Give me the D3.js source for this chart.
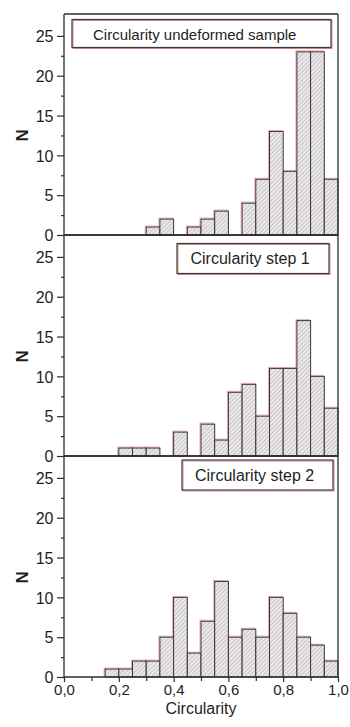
<!DOCTYPE html>
<html>
<head>
<meta charset="utf-8">
<script src="https://cdn.jsdelivr.net/npm/d3@7"></script>
<style>
  html, body { margin: 0; padding: 0; background: #fff; }
  text { font-family: "Liberation Sans", Arial, sans-serif; fill: #1e1e1e; }
</style>
</head>
<body>
<svg id="chart" width="350" height="727"></svg>
<script>
// ---- data ----
const binEdges = d3.range(20).map(i => +(i * 0.05).toFixed(2)); // lower edges, width 0.05
const binWidth = 0.05;
const titles = ["Circularity undeformed sample", "Circularity step 1", "Circularity step 2"];
const countsUndeformed = [0,0,0,0,0,0,1,2,0,1,2,3,0,4,7,13,8,23,23,7];
const countsStep1      = [0,0,0,0,1,1,1,0,3,0,4,2,8,9,5,11,11,17,10,6];
const countsStep2      = [0,0,0,1,1,2,2,5,10,3,7,12,5,6,5,10,8,5,4,2];
const yTicks = [0, 5, 10, 15, 20, 25];
const yMinorTicks = [2.5, 7.5, 12.5, 17.5, 22.5];
const xTicks = [0, 0.2, 0.4, 0.6, 0.8, 1.0];
const xTickLabels = ["0,0", "0,2", "0,4", "0,6", "0,8", "1,0"];
const xMinorTicks = [0.1, 0.3, 0.5, 0.7, 0.9];
const yLabel = "N";
const xLabel = "Circularity";

const panels = [
  { title: titles[0], counts: countsUndeformed },
  { title: titles[1], counts: countsStep1 },
  { title: titles[2], counts: countsStep2 }
];

// ---- layout ----
const svg = d3.select("#chart");
const left = 64, right = 338;
const panelTop0 = 14, panelH = 221;
const legendBoxes = [
  { x: 72, y: 19.5, w: 259, h: 28, tx: 93, ty: 39.5, fs: 15 },
  { x: 177, y: 243.5, w: 152, h: 30, tx: 190.5, ty: 263.5, fs: 16 },
  { x: 182, y: 460, w: 151, h: 30, tx: 195, ty: 481, fs: 16 }
];

const x = d3.scaleLinear().domain([0, 1]).range([left, right]);

const defs = svg.append("defs");
const pat = defs.append("pattern")
  .attr("id", "hatch")
  .attr("patternUnits", "userSpaceOnUse")
  .attr("width", 3).attr("height", 3)
  .attr("patternTransform", "rotate(-45)");
pat.append("rect").attr("width", 3).attr("height", 3).attr("fill", "#efe8e8");
pat.append("line").attr("x1", 0).attr("y1", 0).attr("x2", 3).attr("y2", 0)
  .attr("stroke", "#95a3b6").attr("stroke-width", 1);

const frameColor = "#2e2e2e";

panels.forEach((p, i) => {
  const top = panelTop0 + i * panelH;
  const bottom = top + panelH;
  const y = d3.scaleLinear().domain([0, 27.75]).range([bottom, top]);
  const g = svg.append("g");

  const data = binEdges.map((e, k) => ({ x0: e, x1: e + binWidth, n: p.counts[k] })).filter(d => d.n > 0);

  // red misregistration fringe
  g.selectAll("rect.fringe").data(data).join("rect")
    .attr("class", "fringe")
    .attr("x", d => x(d.x0) - 1)
    .attr("y", d => y(d.n) - 1)
    .attr("width", d => x(d.x1) - x(d.x0))
    .attr("height", d => y(0) - y(d.n))
    .attr("fill", "none")
    .attr("stroke", "#e88a8a")
    .attr("stroke-opacity", 0.7)
    .attr("stroke-width", 1);

  g.selectAll("rect.bar").data(data).join("rect")
    .attr("class", "bar")
    .attr("x", d => x(d.x0))
    .attr("y", d => y(d.n))
    .attr("width", d => x(d.x1) - x(d.x0))
    .attr("height", d => y(0) - y(d.n))
    .attr("fill", "url(#hatch)")
    .attr("stroke", "#3a3434")
    .attr("stroke-width", 1);

  // y axis (left)
  const yAxis = d3.axisLeft(y).tickValues(yTicks).tickSize(7).tickPadding(3.5).tickFormat(d3.format("d"));
  const ya = g.append("g").attr("transform", `translate(${left},0)`).call(yAxis);
  ya.select(".domain").remove();
  ya.selectAll(".tick line").attr("stroke", frameColor).attr("stroke-width", 1.2);
  ya.selectAll(".tick text")
    .style("font-family", '"Liberation Sans", Arial, sans-serif')
    .style("font-size", "16px")
    .attr("fill", "#1e1e1e")
    .attr("dy", "0.36em");
  const yMinor = d3.axisLeft(y).tickValues(yMinorTicks).tickSize(3).tickFormat("");
  const ym = g.append("g").attr("transform", `translate(${left},0)`).call(yMinor);
  ym.select(".domain").remove();
  ym.selectAll(".tick line").attr("stroke", frameColor).attr("stroke-width", 1.2);

  // y label
  g.append("text")
    .attr("transform", `translate(${28},${(y(0) + y(25)) / 2}) rotate(-90)`)
    .attr("text-anchor", "middle")
    .style("font-size", "17px")
    .style("font-weight", "bold")
    .text(yLabel);

  // frame
  g.append("line").attr("x1", left).attr("x2", left).attr("y1", top).attr("y2", bottom)
    .attr("stroke", frameColor).attr("stroke-width", 1.3);
  g.append("line").attr("x1", right).attr("x2", right).attr("y1", top).attr("y2", bottom)
    .attr("stroke", frameColor).attr("stroke-width", 1.3);
  g.append("line").attr("x1", left).attr("x2", right).attr("y1", top).attr("y2", top)
    .attr("stroke", frameColor).attr("stroke-width", 1.3);
  g.append("line").attr("x1", left).attr("x2", right).attr("y1", bottom).attr("y2", bottom)
    .attr("stroke", frameColor).attr("stroke-width", 1.3);

  // legend box
  const lb = legendBoxes[i];
  g.append("rect").attr("x", lb.x + 1).attr("y", lb.y + 1).attr("width", lb.w).attr("height", lb.h)
    .attr("fill", "none").attr("stroke", "#e08a8a").attr("stroke-width", 1);
  g.append("rect").attr("x", lb.x).attr("y", lb.y).attr("width", lb.w).attr("height", lb.h)
    .attr("fill", "none").attr("stroke", "#3a3a3a").attr("stroke-width", 1.2);
  g.append("text").attr("x", lb.tx).attr("y", lb.ty)
    .style("font-size", lb.fs + "px")
    .text(p.title);

  if (i === panels.length - 1) {
    const xAxis = d3.axisBottom(x).tickValues(xTicks).tickSize(5).tickPadding(2)
      .tickFormat((d, k) => xTickLabels[k]);
    const xa = g.append("g").attr("transform", `translate(0,${bottom})`).call(xAxis);
    xa.select(".domain").remove();
    xa.selectAll(".tick line").attr("stroke", frameColor).attr("stroke-width", 1.2);
    xa.selectAll(".tick text")
      .style("font-family", '"Liberation Sans", Arial, sans-serif')
      .style("font-size", "15px")
      .attr("fill", "#1e1e1e");
    const xMinor = d3.axisBottom(x).tickValues(xMinorTicks).tickSize(4).tickFormat("");
    const xm = g.append("g").attr("transform", `translate(0,${bottom})`).call(xMinor);
    xm.select(".domain").remove();
    xm.selectAll(".tick line").attr("stroke", frameColor).attr("stroke-width", 1.2);

    g.append("text")
      .attr("x", (left + right) / 2)
      .attr("y", 713.5)
      .attr("text-anchor", "middle")
      .style("font-size", "16px")
      .text(xLabel);
  }
});
</script>
</body>
</html>
